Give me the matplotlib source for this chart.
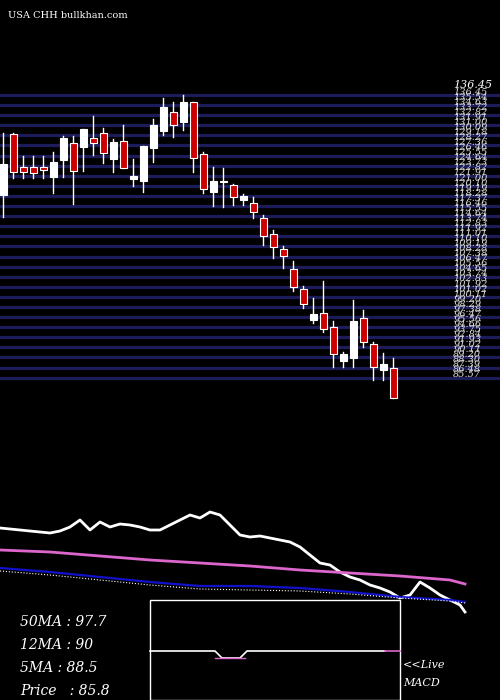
import numpy as np
import matplotlib; matplotlib.use("Agg")
import matplotlib.pyplot as plt
from matplotlib.patches import Rectangle

# ---- candles (open, high, low, close) ----
opens  = [118.45,129.37,123.43,123.4,123.43,121.75,124.81,127.75,127.15,128.65,129.55,125.0,128.11,121.4,121.0,
          126.97,130.03,133.45,131.65,135.13,125.77,119.05,120.73,120.19,117.6,116.95,114.25,111.37,108.67,105.19,
          101.47,95.89,97.15,94.63,88.63,89.17,96.25,91.57,87.01,87.3]
closes = [123.97,122.53,122.53,122.5,122.89,124.39,128.65,122.71,130.27,127.75,125.95,128.0,123.37,121.8,127.2,
          130.99,134.23,130.99,135.13,125.05,119.47,120.97,120.73,118.15,118.2,115.33,111.01,109.03,107.41,101.83,
          98.77,96.97,94.27,89.77,89.83,95.77,91.93,87.43,87.97,81.9]
highs  = [129.55,129.55,125.47,125.47,125.47,126.19,129.07,129.07,130.27,132.67,130.45,128.5,131.05,124.87,127.2,
          132.13,135.85,135.13,136.45,135.13,126.19,123.43,123.25,120.37,118.63,118.03,114.85,112.15,109.27,106.57,
          102.07,99.85,102.97,95.77,90.25,99.55,97.75,91.93,89.95,89.1]
lows   = [114.55,121.45,121.45,121.45,121.45,118.75,121.75,116.77,122.83,125.71,124.27,122.65,123.25,120.07,119.05,
          124.45,129.25,128.95,130.15,122.65,118.87,116.47,116.35,116.65,116.65,114.25,109.45,107.17,105.37,101.23,
          98.17,95.35,93.85,87.55,87.55,87.55,91.15,85.15,85.15,81.9]
p_top, p_bot = 136.45, 85.57
n_levels = 29

# ---- lower panel (pixel-like units, 0 = top) ----
ind_x    = [0,10,20,30,40,50,60,70,80,90,100,110,120,130,140,150,160,170,180,190,200,210,220,230,240,250,260,270,280,
            290,300,310,320,330,340,350,360,370,380,390,400,410,420,430,440,450,460,465]
ma_white = [528,529,530,531,532,533,531,527,520,530,522,527,524,525,527,530,530,525,520,515,518,512,515,525,535,537,
            536,538,540,542,547,555,563,565,572,577,580,585,588,592,598,595,582,588,595,600,605,612]
pink_x   = [0,50,100,150,200,250,300,350,400,450,465]
ma_pink  = [550,552,556,560,563,566,570,573,576,580,584]
ma_blue  = [568,572,577,582,586,586,588,592,597,600,602]
ma_dot   = [571,575,580,585,589,590,591,594,598,601,603]

fig = plt.figure(figsize=(5, 7), dpi=100, facecolor="black")
ax = fig.add_axes([0, 0, 1, 1], facecolor="black")
ax.set_xlim(-0.33, 49.67); ax.set_ylim(27.55, 153.55); ax.axis("off")

levels = np.linspace(p_top, p_bot, n_levels)
for lv in levels:
    ax.axhline(lv, color="#1c1c5a", lw=2.3, zorder=1)
for lv in np.linspace(p_top, p_bot, 2 * n_levels - 1):
    ax.text(45, lv + 0.5, f"{lv:.2f}", color="#dddddd", fontsize=7, family="DejaVu Serif",
            style="italic", va="center", zorder=3)
ax.text(45, p_top + 1.2, "136.45", color="white", fontsize=8, family="DejaVu Serif", style="italic", zorder=4)

for i, (o, h, l, c) in enumerate(zip(opens, highs, lows, closes)):
    col = "white" if c >= o else "#cc0000"
    ax.plot([i, i], [l, h], color="white", lw=1, zorder=4)
    ax.add_patch(Rectangle((i - 0.33, min(o, c)), 0.66, max(abs(c - o), 0.3),
                           facecolor=col, edgecolor="white", lw=0.8, zorder=5))

ax.text(0.015, 0.985, "USA CHH bullkhan.com", transform=ax.transAxes, color="white",
        fontsize=7, family="DejaVu Serif", va="top")

# lower panel overlay
a2 = fig.add_axes([0, 0, 1, 1], facecolor="none")
a2.set_xlim(0, 500); a2.set_ylim(700, 0); a2.axis("off")
a2.plot(ind_x, ma_white, color="white", lw=2)
a2.plot(pink_x, ma_pink, color="#dd66cc", lw=2)
a2.plot(pink_x, ma_blue, color="#1111cc", lw=1.6)
a2.plot(pink_x, ma_dot, color="white", lw=0.8, ls=":")

a2.add_patch(Rectangle((150, 600), 250, 100, facecolor="black", edgecolor="white", lw=1, zorder=5))
a2.plot([150, 215, 222, 240, 247, 385], [651, 651, 658, 658, 651, 651], color="white", lw=1.2, zorder=6)
a2.plot([215, 245], [658, 658], color="#dd66cc", lw=1, zorder=6)
a2.plot([385, 400], [651, 651], color="#dd66cc", lw=1.2, zorder=6)

for y, t in zip([622, 645, 668, 691], ["50MA : 97.7", "12MA : 90", "5MA : 88.5", "Price   : 85.8"]):
    a2.text(20, y, t, color="white", fontsize=10, family="DejaVu Serif", style="italic", va="center")
a2.text(403, 665, "<<Live", color="white", fontsize=8, family="DejaVu Serif", style="italic", va="center")
a2.text(403, 683, "MACD", color="white", fontsize=8, family="DejaVu Serif", style="italic", va="center")

fig.savefig("out.png", dpi=100, facecolor="black")
